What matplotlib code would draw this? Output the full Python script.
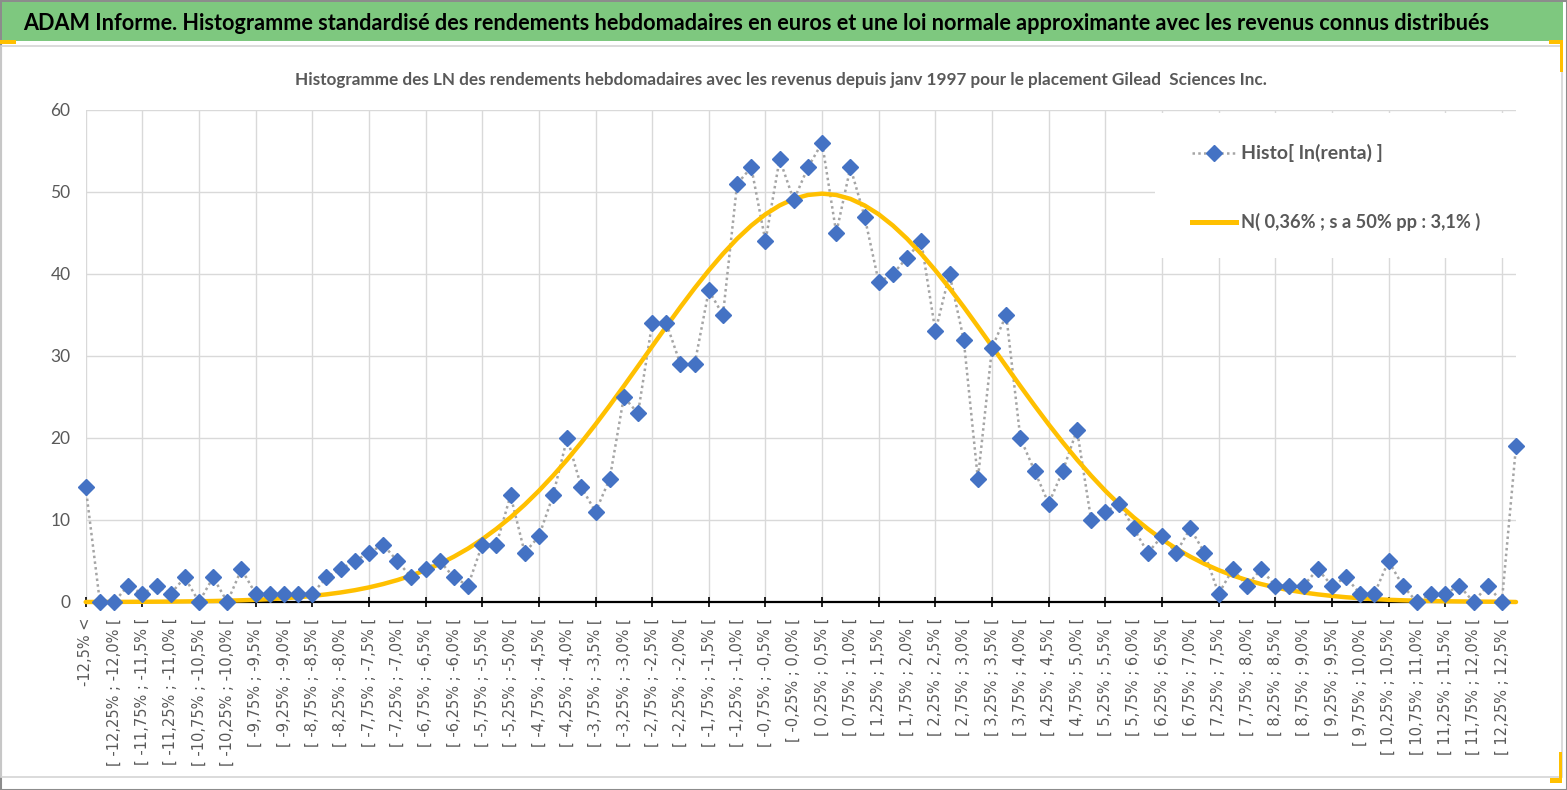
import matplotlib
matplotlib.use("Agg")
import matplotlib.pyplot as plt
from matplotlib.patches import Rectangle
from matplotlib.lines import Line2D
import numpy as np

# bins of 0,25% from -12,5% to 12,5% plus the two tails
lower_edges = [-12.5 + 0.25 * k for k in range(100)]


def pct(v):
    s = "%.2f" % (v + 0.0)
    if s.endswith("0"):
        s = s[:-1]
    if s == "-0.0":
        s = "0.0"
    return s.replace(".", ",")


bin_labels = (["-12,5% <"]
              + ["[ %s%% ; %s%% [" % (pct(a), pct(a + 0.25)) for a in lower_edges]
              + ["12,5% <="])

# counts
histo = [14, 0, 0, 2, 1, 2, 1, 3, 0, 3, 0, 4, 1, 1, 1, 1, 1, 3, 4, 5,
         6, 7, 5, 3, 4, 5, 3, 2, 7, 7, 13, 6, 8, 13, 20, 14, 11, 15, 25, 23,
         34, 34, 29, 29, 38, 35, 51, 53, 44, 54, 49, 53, 56, 45, 53, 47, 39, 40, 42, 44,
         33, 40, 32, 15, 31, 35, 20, 16, 12, 16, 21, 10, 11, 12, 9, 6, 8, 6, 9, 6,
         1, 4, 2, 4, 2, 2, 2, 4, 2, 3, 1, 1, 5, 2, 0, 1, 1, 2, 0, 2,
         0, 19]

# approximating normal curve
normal = [0.0, 0.01, 0.01, 0.02, 0.03, 0.04, 0.05, 0.07, 0.09, 0.12,
          0.16, 0.21, 0.27, 0.35, 0.46, 0.58, 0.74, 0.93, 1.16, 1.44,
          1.78, 2.19, 2.67, 3.23, 3.89, 4.65, 5.53, 6.52, 7.65, 8.92,
          10.32, 11.87, 13.56, 15.40, 17.36, 19.46, 21.66, 23.96, 26.33, 28.75,
          31.18, 33.60, 35.98, 38.27, 40.44, 42.46, 44.30, 45.91, 47.28, 48.36,
          49.16, 49.64, 49.80, 49.64, 49.16, 48.36, 47.28, 45.91, 44.30, 42.46,
          40.44, 38.27, 35.98, 33.60, 31.18, 28.75, 26.33, 23.96, 21.66, 19.46,
          17.36, 15.40, 13.56, 11.87, 10.32, 8.92, 7.65, 6.52, 5.53, 4.65,
          3.89, 3.23, 2.67, 2.19, 1.78, 1.44, 1.16, 0.93, 0.74, 0.58,
          0.46, 0.35, 0.27, 0.21, 0.16, 0.12, 0.09, 0.07, 0.05, 0.04,
          0.03, 0.0]

title = ("ADAM Informe. Histogramme standardisé des rendements hebdomadaires en euros "
         "et une loi normale approximante avec les revenus connus distribués")
subtitle = ("Histogramme des LN des rendements hebdomadaires avec les revenus depuis "
            "janv 1997 pour le placement Gilead  Sciences Inc.")
legend_histo = "Histo[ ln(renta) ]"
legend_normal = "N( 0,36% ; s a 50% pp : 3,1% )"

W, H = 1567, 790
NARROW = ["Lato", "DejaVu Sans"]
GRAY_TXT = "#595959"

fig = plt.figure(figsize=(W / 100, H / 100), dpi=100)
renderer = fig.canvas.get_renderer()


def fx(px):
    return px / W


def fy(py):
    return 1 - py / H


def box(x0, y0, x1, y1, **kw):
    fig.add_artist(Rectangle((fx(x0), fy(y1)), fx(x1) - fx(x0), fy(y0) - fy(y1),
                             transform=fig.transFigure, **kw))


def fit(t, width_px):
    # scale the font so the text spans the width seen in the reference
    w = t.get_window_extent(renderer).width
    t.set_fontsize(t.get_fontsize() * width_px / w)


# frame, header band and selection marks
box(0.5, 0.5, W - 0.5, H - 0.5, facecolor="none", edgecolor="#8c8c8c", lw=1.5)
box(2, 2, 1563, 41, facecolor="#7ec87f", edgecolor="none")
box(1, 46, 1562, 777, facecolor="none", edgecolor="#d4d4d4", lw=1.2)
box(0, 40, 16, 44, facecolor="#ffc000", edgecolor="none")
box(1549, 40, 1563, 44, facecolor="#ffc000", edgecolor="none")
box(1560, 40, 1563, 72, facecolor="#ffc000", edgecolor="none")
box(1559, 752, 1562, 783, facecolor="#ffc000", edgecolor="none")
box(1550, 778, 1562, 783, facecolor="#ffc000", edgecolor="none")

t = fig.text(fx(23), fy(23), title, ha="left", va="center", fontsize=17,
             family=NARROW, fontweight="bold", color="black")
fit(t, 1466)
t = fig.text(fx(781), fy(80), subtitle, ha="center", va="center", fontsize=12.5,
             family=NARROW, fontweight="bold", color=GRAY_TXT)
fit(t, 975)

ax = fig.add_axes([fx(85.7), fy(602), fx(1516) - fx(85.7), fy(110) - fy(602)])
x = np.arange(len(histo))
ax.set_xlim(0, len(histo) - 1)
ax.set_ylim(0, 60)

for s in ["top", "right", "left"]:
    ax.spines[s].set_visible(False)
ax.spines["bottom"].set_color("black")
ax.spines["bottom"].set_linewidth(1.6)
ax.spines["bottom"].set_zorder(2)

ax.set_yticks(range(0, 61, 10))
ax.tick_params(axis="y", length=0, pad=11, labelsize=12.5, labelcolor=GRAY_TXT)
for tl in ax.get_yticklabels():
    tl.set_family(NARROW)

major = list(range(0, len(histo), 4))
minor = list(range(2, len(histo), 4))
ax.set_xticks(major)
ax.set_xticks(minor, minor=True)
ax.set_xticklabels([bin_labels[i] for i in major], rotation=90, va="top", ha="center")
ax.set_xticklabels([bin_labels[i] for i in minor], minor=True, rotation=90,
                   va="top", ha="center")
ax.tick_params(axis="x", which="both", direction="inout", length=7, width=1.2,
               pad=8, labelsize=10.5, labelcolor=GRAY_TXT, color="black")
ax.tick_params(axis="x", which="minor", color="none")

ax.grid(True, which="major", color="#d9d9d9", lw=1)
ax.set_axisbelow(True)

# legend background hides the grid
ax.add_patch(Rectangle(((1155 - 85.7) / 1430.3, (602 - 258) / 492), 1.01, (258 - 113) / 492,
                       transform=ax.transAxes, facecolor="white", edgecolor="none",
                       zorder=1, clip_on=False))

ax.plot(x, histo, ls=(0, (1, 1.3)), color="#a5a5a5", lw=1.8, zorder=3, clip_on=False)
ax.plot(x, normal, color="#ffc000", lw=3.2, zorder=3.5, clip_on=False,
        solid_capstyle="round")
ax.plot(x, histo, ls="none", marker="D", ms=7.8, color="#4472c4", zorder=4, clip_on=False)

# legend
fig.add_artist(Line2D([fx(1192), fx(1236)], [fy(153), fy(153)], ls=(0, (1, 1.3)),
                      color="#a5a5a5", lw=1.8))
fig.add_artist(Line2D([fx(1214)], [fy(153)], ls="none", marker="D", ms=7.8,
                      color="#4472c4"))
fig.add_artist(Line2D([fx(1192), fx(1236)], [fy(222), fy(222)], color="#ffc000", lw=3.6))
t = fig.text(fx(1241), fy(153), legend_histo, ha="left", va="center", fontsize=14,
             family=NARROW, fontweight="bold", color=GRAY_TXT)
fit(t, 142)
t = fig.text(fx(1241), fy(222), legend_normal, ha="left", va="center", fontsize=14,
             family=NARROW, fontweight="bold", color=GRAY_TXT)
fit(t, 241)

fig.savefig("out.png", dpi=100)
